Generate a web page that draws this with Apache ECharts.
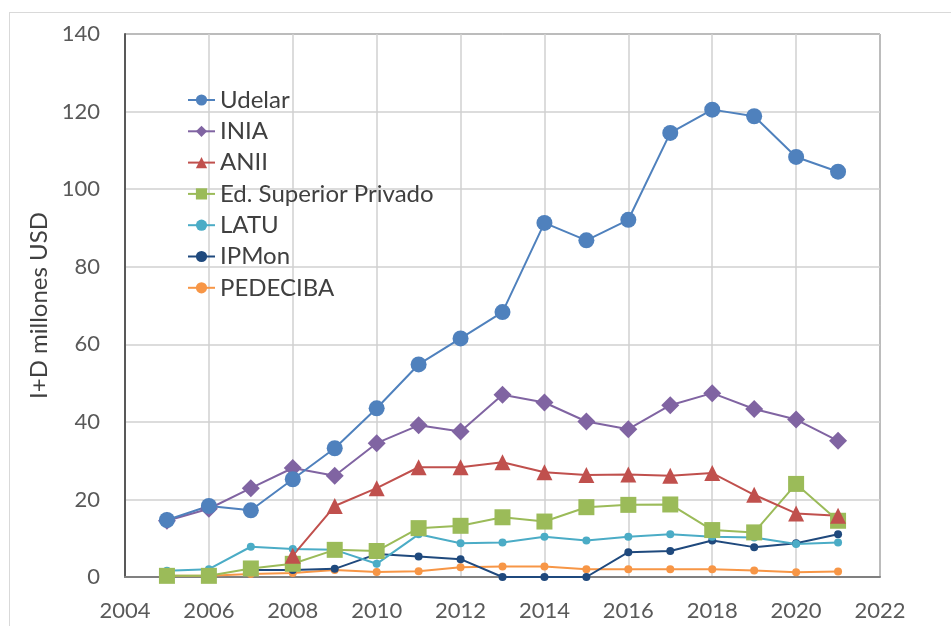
<!DOCTYPE html>
<html>
<head>
<meta charset="utf-8">
<script src="https://cdn.jsdelivr.net/npm/echarts@6/dist/echarts.min.js"></script>
<style>
    html, body { margin: 0; padding: 0; background: #fff; }
    #chart { width: 951px; height: 626px; }
    #frame { position: absolute; left: 9px; top: 12px; width: 960px; height: 640px; border: 1px solid #d9d9d9; pointer-events: none; }
</style>
</head>
<body>
<div id="frame"></div>
<div id="chart"></div>
<script>
// años
const years = [2005, 2006, 2007, 2008, 2009, 2010, 2011, 2012, 2013, 2014, 2015, 2016, 2017, 2018, 2019, 2020, 2021];

// I+D millones USD por institución
const udelar   = [14.7, 18.3, 17.2, 25.2, 33.2, 43.5, 54.8, 61.5, 68.3, 91.3, 86.8, 92.1, 114.5, 120.5, 118.8, 108.3, 104.5];
const inia     = [14.5, 17.6, 22.9, 28.1, 26.1, 34.5, 39.1, 37.5, 47.0, 45.0, 40.1, 38.1, 44.3, 47.4, 43.3, 40.6, 35.1];
const anii     = [null, null, null, 5.5, 18.3, 22.9, 28.3, 28.3, 29.6, 27.0, 26.3, 26.4, 26.1, 26.8, 21.2, 16.4, 15.8];
const edPriv   = [0.3, 0.3, 2.2, 3.4, 7.0, 6.7, 12.6, 13.2, 15.4, 14.3, 18.0, 18.6, 18.7, 12.1, 11.5, 24.0, 14.5];
const latu     = [1.6, 2.0, 7.8, 7.2, 7.0, 3.4, 11.0, 8.7, 8.9, 10.4, 9.4, 10.4, 11.0, 10.4, 10.2, 8.5, 8.9];
const ipmon    = [null, null, 1.8, 1.8, 2.1, 5.9, 5.3, 4.6, 0, 0, 0, 6.4, 6.7, 9.4, 7.7, 8.7, 11.0];
const pedeciba = [0.3, 0.3, 0.8, 1.0, 1.8, 1.3, 1.5, 2.5, 2.7, 2.7, 2.0, 2.0, 2.0, 2.0, 1.7, 1.2, 1.4];

const xTicks = { min: 2004, max: 2022, interval: 2 };
const yTicks = { min: 0, max: 140, interval: 20 };

function pairs(values) {
    return years.map((y, i) => [y, values[i]]);
}

function lineSeries(name, values, color, symbol, size) {
    return {
        name: name,
        type: 'line',
        data: pairs(values),
        connectNulls: false,
        symbol: symbol,
        symbolSize: size,
        showAllSymbol: true,
        lineStyle: { color: color, width: 2 },
        itemStyle: { color: color },
        emphasis: { disabled: true }
    };
}

const myChart = echarts.init(document.getElementById('chart'), null, { renderer: 'canvas' });

myChart.setOption({
    animation: false,
    textStyle: { fontFamily: 'Lato' },
    grid: {
        left: 125, right: 71, top: 34, bottom: 49,
        show: true, borderColor: '#000', borderWidth: 1
    },
    legend: {
        orient: 'vertical',
        left: 187,
        top: 88,
        padding: 0,
        itemGap: 7.3,
        itemWidth: 27,
        itemHeight: 14,
        textStyle: { fontSize: 24, lineHeight: 22, color: '#404040', fontFamily: 'Lato' },
        data: ['Udelar', 'INIA', 'ANII', 'Ed. Superior Privado', 'LATU', 'IPMon', 'PEDECIBA']
    },
    xAxis: {
        type: 'value',
        min: xTicks.min, max: xTicks.max, interval: xTicks.interval,
        axisLine: { show: true, lineStyle: { color: '#808080', width: 2 } },
        axisTick: { show: false },
        axisLabel: { fontSize: 22, color: '#595959', margin: 23, formatter: v => String(v) },
        splitLine: { show: true, lineStyle: { color: '#d0d0d0', width: 1.5 } }
    },
    yAxis: {
        type: 'value',
        min: yTicks.min, max: yTicks.max, interval: yTicks.interval,
        name: 'I+D millones USD',
        nameLocation: 'middle',
        nameGap: 70,
        nameTextStyle: { fontSize: 24, color: '#404040' },
        axisLine: { show: true, lineStyle: { color: '#595959', width: 2 } },
        axisTick: { show: false },
        axisLabel: { fontSize: 22, color: '#595959', margin: 25 },
        splitLine: { show: true, lineStyle: { color: '#d0d0d0', width: 1.5 } }
    },
    series: [
        lineSeries('PEDECIBA', pedeciba, '#F79646', 'circle', 8),
        lineSeries('IPMon', ipmon, '#1F497D', 'circle', 8),
        lineSeries('LATU', latu, '#4BACC6', 'circle', 8),
        lineSeries('Ed. Superior Privado', edPriv, '#9BBB59', 'rect', 16),
        lineSeries('ANII', anii, '#C0504D', 'triangle', 16),
        lineSeries('INIA', inia, '#8064A2', 'diamond', 18),
        lineSeries('Udelar', udelar, '#4F81BD', 'circle', 16)
    ]
});
</script>
</body>
</html>
